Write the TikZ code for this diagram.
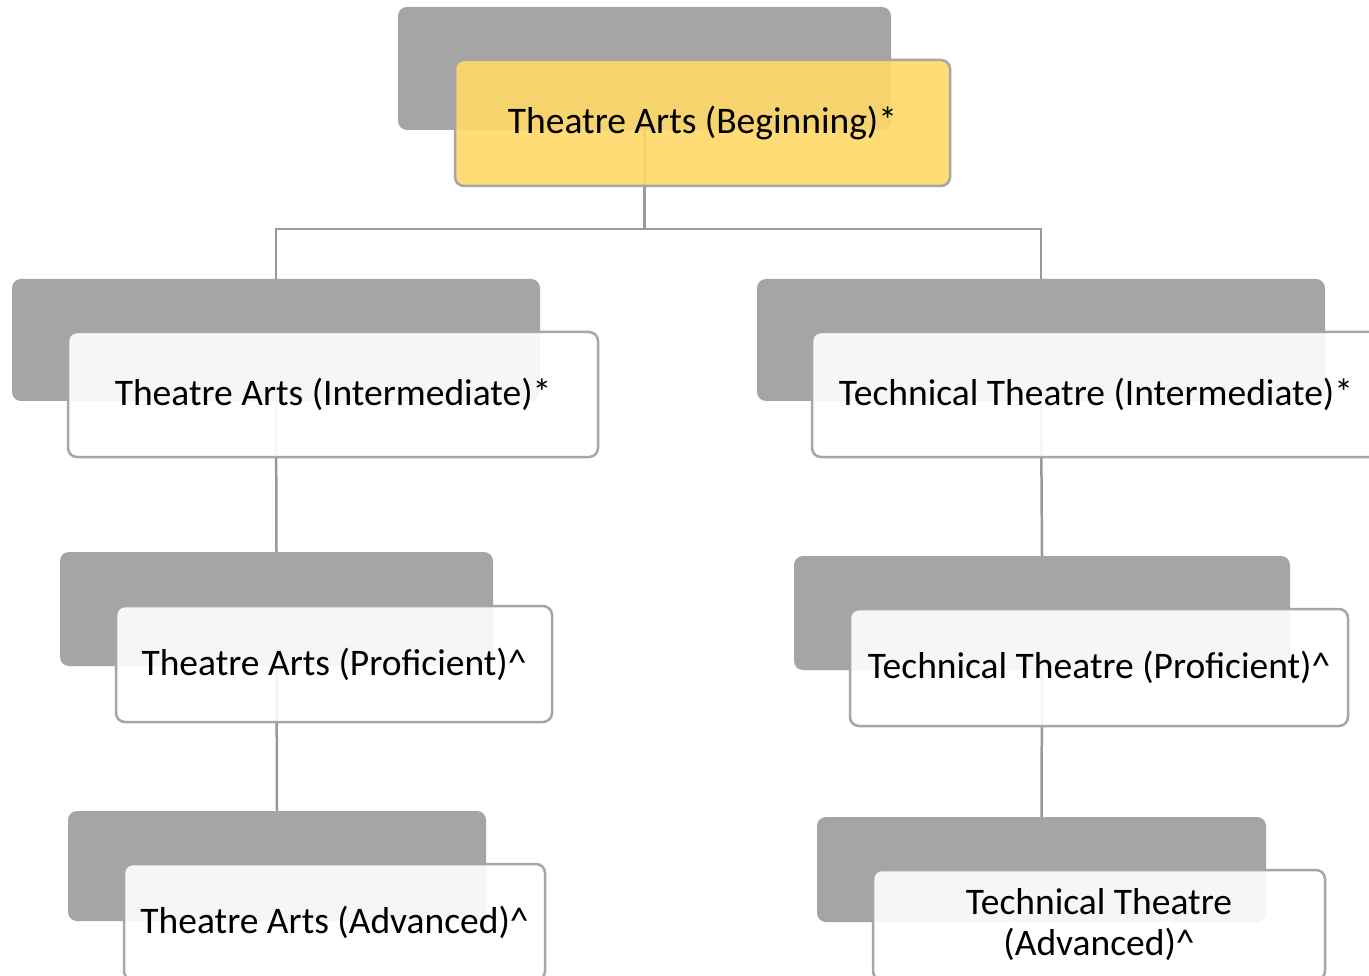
\documentclass[tikz,border=0pt]{standalone}
\usepackage{fontspec}
\setmainfont{Carlito}
\definecolor{backgray}{HTML}{A5A5A5}
\definecolor{edgegray}{HTML}{A6A6A6}
\definecolor{linegray}{HTML}{999999}
\definecolor{gold}{HTML}{FFD966}
\begin{document}
\begin{tikzpicture}[x=1pt,y=-1pt,
  backbox/.style={rectangle, rounded corners=9pt, fill=backgray, draw=none, inner sep=0pt},
  frontbox/.style={rectangle, rounded corners=9pt, fill=white, fill opacity=0.9, text opacity=1,
    draw=edgegray, line width=2.5pt, inner sep=0pt, align=center,
    font=\fontsize{37.5}{41}\selectfont},
  conn/.style={draw=linegray, line width=2.5pt}]
\useasboundingbox (0,0) rectangle (1369,976);
\fill[white] (0,0) rectangle (1369,976);
% back boxes
\node[backbox, minimum width=493pt, minimum height=123pt] (topB) at (644.5,68.5) {};
\node[backbox, minimum width=528pt, minimum height=122pt] (llB) at (276,340) {};
\node[backbox, minimum width=568pt, minimum height=122pt] (lrB) at (1041,340) {};
\node[backbox, minimum width=433pt, minimum height=114pt] (plB) at (276.5,609) {};
\node[backbox, minimum width=418pt, minimum height=110pt] (alB) at (277,866) {};
\node[backbox, minimum width=496pt, minimum height=114pt] (prB) at (1042,613) {};
\node[backbox, minimum width=449pt, minimum height=105pt] (arB) at (1041.5,869.5) {};
% connectors
\coordinate (bus) at (0,229);
\draw[conn] (topB.south) -- (topB.south |- bus) -| (llB.north);
\draw[conn] (topB.south |- bus) -| (lrB.north);
\draw[conn] (llB.south) -- (plB.north);
\draw[conn] (plB.south) -- (alB.north);
\draw[conn] (lrB.south) -- (prB.north);
\draw[conn] (prB.south) -- (arB.north);
% front boxes
\node[frontbox, fill=gold, minimum width=495pt, minimum height=126pt] (top) at (702.5,123) {Theatre Arts (Beginning)*};
\node[frontbox, minimum width=530pt, minimum height=125pt] (ll) at (333,394.5) {Theatre Arts (Intermediate)*};
\node[frontbox, minimum width=568pt, minimum height=125pt] (lr) at (1096,394.5) {Technical Theatre (Intermediate)*};
\node[frontbox, minimum width=436pt, minimum height=116pt] (pl) at (334,664) {Theatre Arts (Proficient)\^{}};
\node[frontbox, minimum width=421pt, minimum height=116pt] (al) at (334.5,922) {Theatre Arts (Advanced)\^{}};
\node[frontbox, minimum width=498pt, minimum height=117pt] (pr) at (1099,667.5) {Technical Theatre (Proficient)\^{}};
\node[frontbox, minimum width=452pt, minimum height=110pt] (ar) at (1099,925) {Technical Theatre\\(Advanced)\^{}};
\end{tikzpicture}
\end{document}
